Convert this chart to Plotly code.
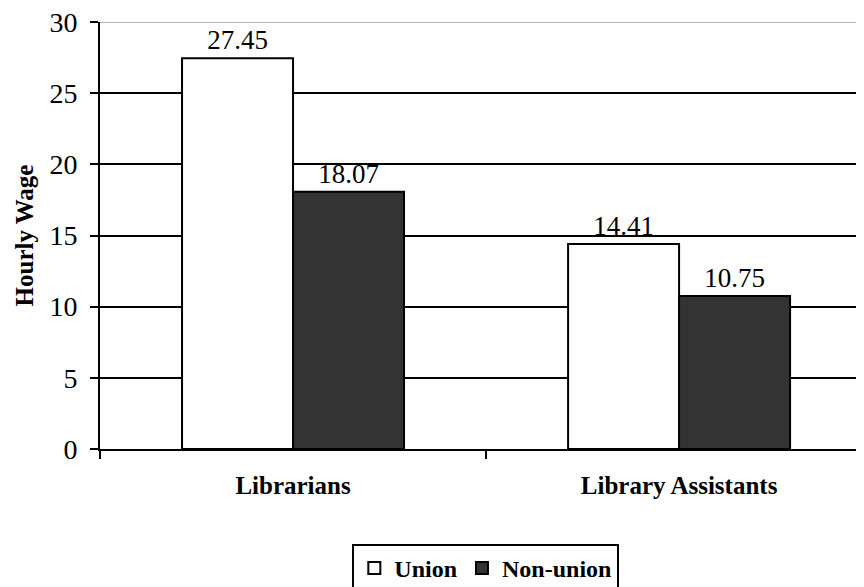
import plotly.graph_objects as go

categories = ["Librarians", "Library Assistants"]
union = [27.45, 14.41]
non_union = [18.07, 10.75]
y_ticks = [0, 5, 10, 15, 20, 25, 30]

FONT = "Times New Roman, Liberation Serif, serif"

fig = go.Figure()
fig.add_trace(go.Bar(
    name="Union", x=categories, y=union,
    marker=dict(color="white", line=dict(color="black", width=2)),
    text=[f"{v:.2f}" for v in union], textposition="outside",
    textfont=dict(family=FONT, size=27, color="black"), cliponaxis=False,
))
fig.add_trace(go.Bar(
    name="Non-union", x=categories, y=non_union,
    marker=dict(color="#333333", line=dict(color="black", width=2)),
    text=[f"{v:.2f}" for v in non_union], textposition="outside",
    textfont=dict(family=FONT, size=27, color="black"), cliponaxis=False,
))

fig.update_layout(
    template="none",
    width=864, height=587,
    margin=dict(l=92, r=8, t=14, b=146, autoexpand=False),
    paper_bgcolor="white", plot_bgcolor="white",
    barmode="group", bargap=0.425, bargroupgap=0,
    font=dict(family=FONT, color="black"),
    showlegend=True,
    legend=dict(
        orientation="h", x=0.505, xanchor="center", y=-0.222, yanchor="top",
        bordercolor="black", borderwidth=2, bgcolor="white",
        font=dict(family=FONT, size=24, color="black", weight="bold"),
        itemwidth=30, traceorder="normal",
    ),
    xaxis=dict(
        range=[-0.5, 1.479], showline=True, linecolor="black", linewidth=2,
        ticks="outside", tickson="boundaries", ticklen=8, tickwidth=2, tickcolor="black",
        tickfont=dict(family=FONT, size=25, color="black", weight="bold"),
        ticklabelstandoff=13, showgrid=False, automargin=False,
    ),
    yaxis=dict(
        range=[0, 30], tickvals=y_ticks, showline=True, linecolor="black", linewidth=2,
        ticks="outside", ticklen=8, tickwidth=2, tickcolor="black",
        tickfont=dict(family=FONT, size=28, color="black"),
        ticklabelstandoff=7, automargin=False, ticklabeloverflow="allow",
        showgrid=True, gridcolor="black", gridwidth=2, zeroline=False,
        title=dict(text="Hourly Wage", font=dict(family=FONT, size=25, color="black", weight="bold"), standoff=9),
    ),
    shapes=[dict(type="line", xref="paper", x0=0, x1=1, yref="y", y0=30, y1=30,
                 line=dict(color="#b4b4b4", width=2), layer="above")],
)

fig.write_html("out.html")
